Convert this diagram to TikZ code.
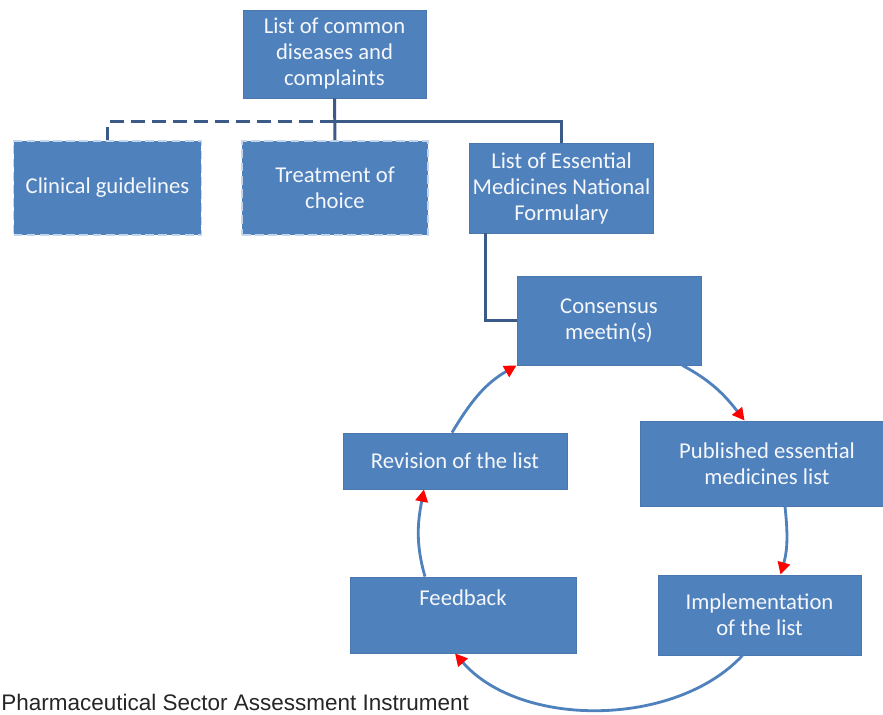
\documentclass[tikz,border=0pt]{standalone}
\usepackage{fontspec}
\setmainfont{Carlito}
\newfontfamily\capfont{Liberation Sans}
\usetikzlibrary{arrows.meta,calc}
\definecolor{boxblue}{HTML}{4F81BD}
\definecolor{boxedge}{HTML}{4A78AE}
\definecolor{treeline}{HTML}{3A5B88}
\definecolor{dashedge}{HTML}{C6D6EA}
\tikzset{
  box/.style={rectangle,fill=boxblue,draw=boxedge,line width=0.5pt,text=white!94!boxblue,align=center,inner sep=2pt,font=\fontsize{12.9}{14.8}\selectfont},
  dbox/.style={box,draw=dashedge,line width=1pt,dash pattern=on 5pt off 2.5pt},
  tree/.style={draw=treeline,line width=1.7pt},
  cyc/.style={draw=boxblue,line width=1.6pt,-{Triangle[length=7pt,width=7pt,color=red,fill=red]}}
}
\begin{document}
\begin{tikzpicture}[x=0.02cm,y=0.02cm]
      \clip (0,0) rectangle (883,-715);
      \fill[white] (0,0) rectangle (883,-715);
      %boxes
      \node[box,minimum width=3.66cm,minimum height=1.76cm] (top) at (334.5,-54) {List of common\\diseases and\\complaints};
      \node[dbox,minimum width=3.76cm,minimum height=1.88cm] (clin) at (107.5,-188) {Clinical guidelines};
      \node[dbox,minimum width=3.72cm,minimum height=1.88cm] (treat) at (335,-188) {Treatment of\\choice};
      \node[box,minimum width=3.66cm,minimum height=1.8cm] (lem) at (561.5,-188) {List of Essential\\Medicines National\\Formulary};
      \node[box,minimum width=3.68cm,minimum height=1.78cm] (cons) at (609,-320.5) {Consensus\\meetin(s)};
      \node[box,minimum width=5.08cm,minimum height=1.7cm] (pub) at (767,-463.5) {Published essential\\medicines list};
      \node[box,minimum width=4.06cm,minimum height=1.6cm] (impl) at (759.5,-615) {Implementation\\of the list};
      \node[box,minimum width=4.52cm,minimum height=1.52cm,text depth=20pt] (fb) at (463,-615) {Feedback};
      \node[box,minimum width=4.48cm,minimum height=1.12cm] (rev) at (455,-461) {Revision of the list};
      %tree
      \coordinate (hub) at (334.5,-122);
      \draw[tree] (top) -- (treat);
      \draw[tree] (hub) -| (lem.north);
      \draw[tree,dash pattern=on 8pt off 4pt] (hub) -| (clin.north);
      \draw[tree] ($(lem.south west)+(17,0)$) |- (cons.west);
      %cycle
      \draw[cyc] ($(cons.south east)+(-19,0)$) to[out=-28,in=128] ($(pub.north west)+(105,0)$);
      \draw[cyc] ($(pub.south)+(18,0)$) to[out=-84,in=74] ($(impl.north)+(21,0)$);
      \draw[cyc] ($(impl.south)+(-17,0)$) to[out=-133,in=-49,looseness=0.88] ($(fb.south)+(-8,0)$);
      \draw[cyc] ($(fb.north)+(-38,0)$) to[out=106,in=259] ($(rev.south)+(-31,0)$);
      \draw[cyc] ($(rev.north)+(-3,0)$) to[out=59,in=210] (cons.south west);
      %caption
      \node[anchor=base west,inner sep=0pt,text=black!85,font=\capfont\fontsize{12.8}{15}\selectfont] (cap) at (1,-711) {Pharmaceutical Sector Assessment Instrument};
\end{tikzpicture}
\end{document}
